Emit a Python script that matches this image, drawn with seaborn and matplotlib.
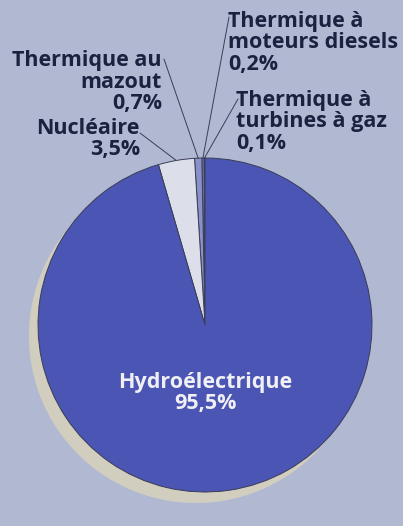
import matplotlib
matplotlib.use("Agg")
import matplotlib.pyplot as plt
import seaborn as sns
import numpy as np
from matplotlib.patches import Circle

# Data (counterclockwise from the top)
categories = ["Thermique à turbines à gaz", "Thermique à moteurs diesels",
              "Thermique au mazout", "Nucléaire", "Hydroélectrique"]
values = [0.1, 0.2, 0.7, 3.5, 95.5]
labels = ["Thermique à\nturbines à gaz\n0,1%",
          "Thermique à\nmoteurs diesels\n0,2%",
          "Thermique au\nmazout\n0,7%",
          "Nucléaire\n3,5%",
          "Hydroélectrique\n95,5%"]

sns.set_theme(style="white")
plt.rcParams['font.family'] = ['Open Sans', 'DejaVu Sans']

bg = "#b1b9d2"
navy = "#1c2140"
colors = ["#7f86c4", "#7f86c4", "#8a90c8", "#dcdfea", "#4b55b4"]

W, H = 403, 526
R = 167.0
cx, cy = 205, 325


def to_data(px, py):
    return (px - cx) / R, (cy - py) / R


fig = plt.figure(figsize=(W / 100, H / 100), dpi=100, facecolor=bg)
ax = fig.add_axes([0, 0, 1, 1])
ax.set_facecolor(bg)

# shadow under the pie
ax.add_patch(Circle((-9 / R, -11 / R), 1.0, facecolor="#d2cebf", edgecolor="none", zorder=0))

wedges, _ = ax.pie(values, colors=colors, startangle=90, counterclock=True,
                   radius=1.0, center=(0, 0),
                   wedgeprops=dict(edgecolor="#3a3d55", linewidth=0.7))
ax.set_xlim(-cx / R, (W - cx) / R)
ax.set_ylim(-(H - cy) / R, cy / R)
ax.set_aspect("equal")
ax.axis("off")
for w in wedges:
    w.set_zorder(2)

# label positions (pixels) and alignment
text_pos = [(236, 122, "left"), (228, 43, "left"), (162, 82, "right"),
            (140, 139, "right")]
line_start = [(238, 99), (229, 17), (164, 59), (140, 133)]

for i in range(4):
    w = wedges[i]
    mid = np.deg2rad((w.theta1 + w.theta2) / 2)
    xy = (np.cos(mid), np.sin(mid))
    tx, ty, ha = text_pos[i]
    ax.text(*to_data(tx, ty), labels[i], ha=ha, va="center",
            fontsize=15.5, fontweight="bold", color=navy,
            linespacing=1.06, multialignment=ha, zorder=5)
    sx, sy = to_data(*line_start[i])
    ax.plot([sx, xy[0]], [sy, xy[1]], color="#3a3d55", lw=0.7, zorder=4)

ax.text(*to_data(205, 393), labels[4], ha="center", va="center",
        fontsize=15.5, fontweight="bold", color="#f0f0f4", linespacing=1.06, zorder=5)

fig.savefig("out.png", dpi=100, facecolor=bg)
